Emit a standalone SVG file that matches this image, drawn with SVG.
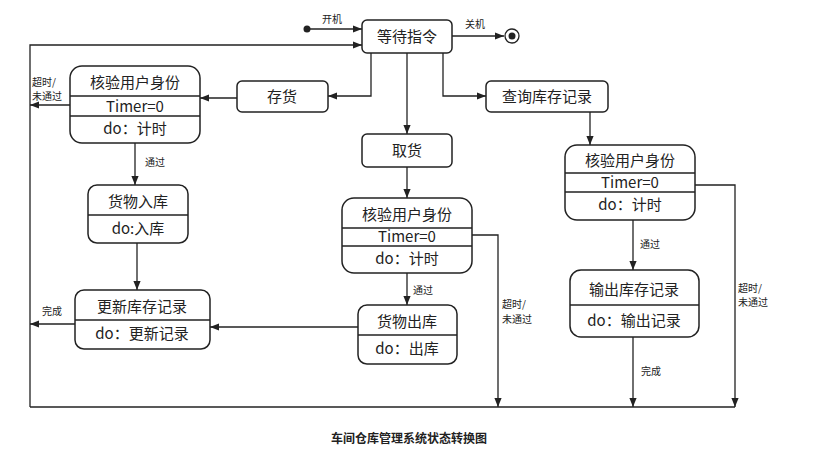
<svg xmlns="http://www.w3.org/2000/svg" width="818" height="475" viewBox="0 0 818 475">
<defs><marker id="a" viewBox="0 0 10 10" refX="10" refY="5" markerWidth="7" markerHeight="7" orient="auto"><path d="M0,1 L10,5 L0,9z" fill="#222"/></marker></defs>
<style>
.b{fill:#fff;stroke:#222;stroke-width:1.5}
.l{stroke:#222;stroke-width:1.3}
.c{fill:none;stroke:#222;stroke-width:1.3;marker-end:url(#a)}
text{font-family:"Noto Sans CJK SC","Liberation Sans",sans-serif;fill:#222}
.t{font-size:15px;text-anchor:middle}
.s{font-size:10px}
</style>
<rect width="818" height="475" fill="#fff"/>
<g id="connectors">
<circle cx="307" cy="29" r="3.5" fill="#222"/>
<path class="c" d="M307,29 H362"/>
<path class="c" d="M452,36 H504"/>
<path class="c" d="M30,407 V45 H362"/>
<path class="l" fill="none" d="M30,407 H735"/>
<path class="c" d="M371,53 V96 H328"/>
<path class="c" d="M237,98 H200"/>
<path class="c" d="M70,105 H30"/>
<path class="c" d="M135,143 V185"/>
<path class="c" d="M137,243 V290"/>
<path class="c" d="M75,324 H30"/>
<path class="c" d="M407,53 V134"/>
<path class="c" d="M407,167 V198"/>
<path class="c" d="M472,235 H498 V407"/>
<path class="c" d="M407,273 V305"/>
<path class="c" d="M358,327 H210"/>
<path class="c" d="M443,53 V96 H486"/>
<path class="c" d="M590,112 V145"/>
<path class="c" d="M695,185 H735 V407"/>
<path class="c" d="M633,220 V270"/>
<path class="c" d="M633,337 V407"/>
<text class="s" x="322" y="23">开机</text>
<text class="s" x="465" y="28">关机</text>
<text class="s" x="32" y="86">超时/</text>
<text class="s" x="32" y="100">未通过</text>
<text class="s" x="145" y="166">通过</text>
<text class="s" x="42" y="315">完成</text>
<text class="s" x="502" y="308">超时/</text>
<text class="s" x="502" y="323">未通过</text>
<text class="s" x="413" y="294">通过</text>
<text class="s" x="738" y="292">超时/</text>
<text class="s" x="738" y="306">未通过</text>
<text class="s" x="640" y="248">通过</text>
<text class="s" x="641" y="375">完成</text>
</g>
<g id="final"><circle cx="512" cy="36" r="7" fill="#fff" stroke="#222" stroke-width="1.3"/><circle cx="512" cy="36" r="3.5" fill="#222"/></g>
<g id="wait"><rect class="b" x="362" y="20" width="90" height="33" rx="5"/><text class="t" x="407" y="42">等待指令</text></g>
<g id="store"><rect class="b" x="237" y="81" width="91" height="31" rx="5"/><text class="t" x="282" y="102">存货</text></g>
<g id="verify1"><rect class="b" x="70" y="66" width="130" height="77" rx="12"/><path class="l" d="M70,96 H200 M70,116 H200"/><text class="t" x="135" y="88">核验用户身份</text><text class="t" x="135" y="112">Timer=0</text><text class="t" x="135" y="134">do：计时</text></g>
<g id="in"><rect class="b" x="88" y="185" width="100" height="58" rx="9"/><path class="l" d="M88,215 H188"/><text class="t" x="138" y="207">货物入库</text><text class="t" x="138" y="234">do:入库</text></g>
<g id="update"><rect class="b" x="75" y="290" width="135" height="59" rx="9"/><path class="l" d="M75,320 H210"/><text class="t" x="142" y="312">更新库存记录</text><text class="t" x="142" y="339">do：更新记录</text></g>
<g id="take"><rect class="b" x="362" y="134" width="90" height="33" rx="5"/><text class="t" x="407" y="156">取货</text></g>
<g id="verify2"><rect class="b" x="342" y="198" width="130" height="75" rx="12"/><path class="l" d="M342,228 H472 M342,246 H472"/><text class="t" x="407" y="220">核验用户身份</text><text class="t" x="407" y="242">Timer=0</text><text class="t" x="407" y="264">do：计时</text></g>
<g id="out"><rect class="b" x="358" y="305" width="99" height="59" rx="9"/><path class="l" d="M358,335 H457"/><text class="t" x="407" y="327">货物出库</text><text class="t" x="407" y="354">do：出库</text></g>
<g id="query"><rect class="b" x="486" y="81" width="122" height="31" rx="5"/><text class="t" x="547" y="102">查询库存记录</text></g>
<g id="verify3"><rect class="b" x="565" y="145" width="130" height="75" rx="12"/><path class="l" d="M565,173 H695 M565,192 H695"/><text class="t" x="630" y="166">核验用户身份</text><text class="t" x="630" y="188">Timer=0</text><text class="t" x="630" y="210">do：计时</text></g>
<g id="output"><rect class="b" x="570" y="270" width="129" height="67" rx="11"/><path class="l" d="M570,305 H699"/><text class="t" x="634" y="295">输出库存记录</text><text class="t" x="634" y="326">do：输出记录</text></g>
<text x="409" y="443" font-size="12" font-weight="bold" text-anchor="middle">车间仓库管理系统状态转换图</text>
</svg>
